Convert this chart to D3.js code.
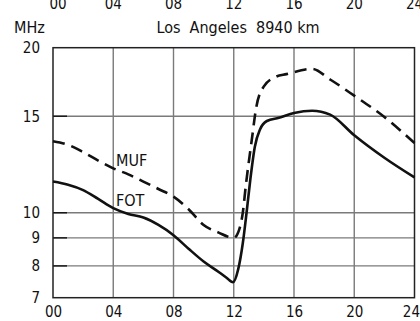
<!DOCTYPE html>
<html>
<head>
<meta charset="utf-8">
<script src="https://cdn.jsdelivr.net/npm/d3@7"></script>
<style>
  html, body { margin: 0; padding: 0; background: #fff; }
  svg { display: block; }
  text { font-family: "DejaVu Sans Condensed", "DejaVu Sans", sans-serif; fill: #111; }
</style>
</head>
<body>
<svg id="chart" width="420" height="321"></svg>
<script>
// Local time of day (hours) and the frequencies in MHz on the Los Angeles path
const hoursFOT = [0, 1, 2, 3, 4, 5, 6, 7, 8, 9, 10, 11, 11.5, 11.95, 12.3, 12.6, 12.85, 13.1, 13.4, 13.75, 14.2, 15, 16, 17.2, 18.4, 20, 22, 24];
const fot      = [11.4, 11.25, 11.0, 10.6, 10.2, 9.95, 9.8, 9.5, 9.1, 8.6, 8.15, 7.8, 7.62, 7.47, 7.9, 8.8, 10.0, 11.5, 13.2, 14.2, 14.7, 14.9, 15.2, 15.35, 15.1, 13.85, 12.6, 11.6];

const hoursMUF = [0, 1, 2, 3, 4, 5, 6, 7, 8, 9, 10, 11, 12, 12.35, 12.6, 12.8, 13.2, 13.5, 14, 14.8, 15.5, 17.2, 18.4, 20, 22, 24];
const muf      = [13.5, 13.3, 12.9, 12.45, 12.05, 11.75, 11.4, 11.05, 10.7, 10.15, 9.5, 9.2, 9.0, 9.3, 10.0, 11.2, 13.6, 15.6, 17.0, 17.7, 17.9, 18.3, 17.5, 16.35, 14.95, 13.4];

const hourTicks  = [0, 4, 8, 12, 16, 20, 24];
const hourLabels = ["00", "04", "08", "12", "16", "20", "24"];
const freqTicks  = [7, 8, 9, 10, 15, 20];
const freqGrid   = [8, 9, 10, 15];

const title = "Los  Angeles  8940 km";
const unit = "MHz";

const svg = d3.select("#chart");
const plotLeft = 53, plotRight = 414.5, plotTop = 47.7, plotBottom = 297.7;

const x = d3.scaleLinear().domain([0, 24]).range([plotLeft, plotRight]);
const y = d3.scaleLog().domain([7, 20]).range([plotBottom, plotTop]);

// Hour labels of the panel above (only their lower half shows)
svg.append("g").selectAll("text").data(hourTicks).join("text")
  .attr("x", (d, i) => x(d) + (i === 0 ? 5 : 0))
  .attr("y", 9)
  .attr("text-anchor", "middle")
  .attr("font-size", 15)
  .text((d, i) => hourLabels[i]);

// Header
svg.append("text").attr("x", 14).attr("y", 33).attr("font-size", 16).text(unit);
svg.append("text").attr("x", 238).attr("y", 33).attr("text-anchor", "middle")
  .attr("font-size", 16).style("white-space", "pre").text(title);

// Grid
const grid = svg.append("g").attr("stroke", "#7a7a7a").attr("stroke-width", 1.4);
grid.selectAll("line.v").data(hourTicks.slice(1, -1)).join("line")
  .attr("x1", d => x(d)).attr("x2", d => x(d))
  .attr("y1", plotTop).attr("y2", plotBottom);
grid.selectAll("line.h").data(freqGrid).join("line")
  .attr("x1", plotLeft).attr("x2", plotRight)
  .attr("y1", d => y(d)).attr("y2", d => y(d));

// Short dark stubs where the grid meets the left axis
svg.append("g").attr("stroke", "#111").attr("stroke-width", 1.4)
  .selectAll("line").data(freqGrid).join("line")
  .attr("x1", plotLeft).attr("x2", plotLeft + 14)
  .attr("y1", d => y(d)).attr("y2", d => y(d));

// Frame
svg.append("rect").attr("x", plotLeft).attr("y", plotTop)
  .attr("width", plotRight - plotLeft).attr("height", plotBottom - plotTop)
  .attr("fill", "none").attr("stroke", "#222").attr("stroke-width", 1.5);

// Axis labels
svg.append("g").attr("transform", `translate(0,${plotBottom})`)
  .call(d3.axisBottom(x).tickValues(hourTicks).tickSize(0).tickPadding(9)
    .tickFormat((d, i) => hourLabels[i]))
  .call(g => g.select(".domain").remove())
  .call(g => g.selectAll("text").attr("font-size", 15)
    .attr("font-family", "DejaVu Sans Condensed, DejaVu Sans, sans-serif").attr("fill", "#111"))
  .call(g => g.selectAll(".tick:last-of-type text").attr("text-anchor", "end").attr("dx", 5));

svg.append("g").attr("transform", `translate(${plotLeft},0)`)
  .call(d3.axisLeft(y).tickValues(freqTicks).tickSize(0).tickPadding(13)
    .tickFormat(d3.format("d")))
  .call(g => g.select(".domain").remove())
  .call(g => g.selectAll("text").attr("font-size", 15)
    .attr("font-family", "DejaVu Sans Condensed, DejaVu Sans, sans-serif").attr("fill", "#111"));

// Curves
const line = d3.line().curve(d3.curveMonotoneX)
  .x(d => x(d[0])).y(d => y(d[1]));

svg.append("path")
  .datum(hoursMUF.map((h, i) => [h, muf[i]]))
  .attr("d", line).attr("fill", "none").attr("stroke", "#111")
  .attr("stroke-width", 2.6).attr("stroke-dasharray", "12,7");

svg.append("path")
  .datum(hoursFOT.map((h, i) => [h, fot[i]]))
  .attr("d", line).attr("fill", "none").attr("stroke", "#111")
  .attr("stroke-width", 2.6);

// Curve names
svg.append("text").attr("x", 116).attr("y", 166).attr("font-size", 16).text("MUF");
svg.append("text").attr("x", 116).attr("y", 206).attr("font-size", 16).text("FOT");
</script>
</body>
</html>
